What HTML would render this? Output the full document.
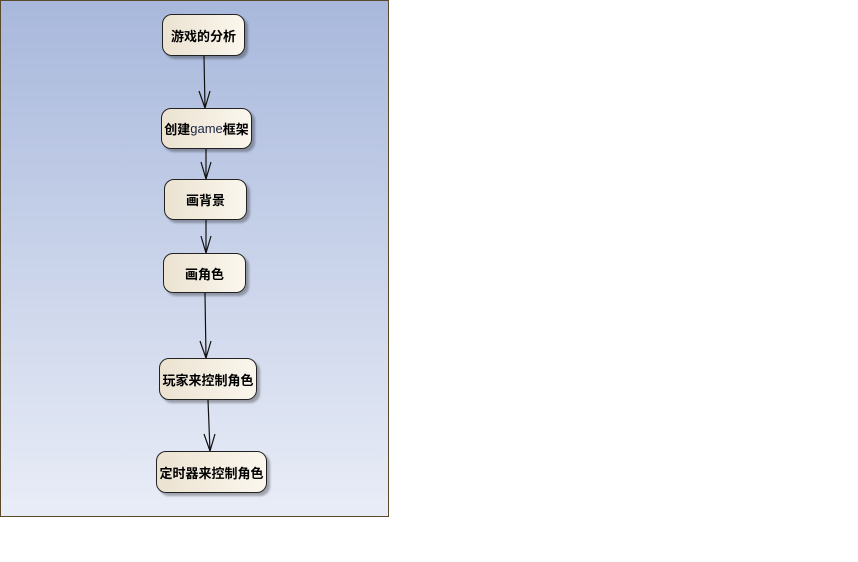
<!DOCTYPE html>
<html><head><meta charset="utf-8"><style>
body{margin:0;width:858px;height:562px;background:#fff;position:relative;overflow:hidden;font-family:"Liberation Sans","Noto Sans CJK SC",sans-serif}
#f{position:absolute;left:0;top:0;width:387px;height:515px;border:1px solid #5a4a2a;background:linear-gradient(#a8b8dc,#e9edf7)}
.n{position:absolute;box-sizing:border-box;border:1px solid #222;border-radius:10px;background:linear-gradient(90deg,#ebe2d0,#fbf7ee);box-shadow:3px 3px 2px rgba(0,0,0,0.3);display:flex;align-items:center;justify-content:center;font-size:13px;font-weight:bold;color:#000;white-space:nowrap}
svg{position:absolute;left:0;top:0}
</style></head><body>
<div id="f"></div>
<svg width="858" height="562"><g stroke="#111" stroke-width="1.2" fill="none">
<line x1="204" y1="56" x2="205" y2="108"/><polyline points="199,91 205,108 210,91"/>
<line x1="206" y1="149" x2="206" y2="179"/><polyline points="201,162 206,179 211,162"/>
<line x1="206" y1="220" x2="206" y2="253"/><polyline points="201,236 206,253 211,236"/>
<line x1="205" y1="293" x2="206" y2="358"/><polyline points="200,341 206,358 211,341"/>
<line x1="208" y1="400" x2="210" y2="451"/><polyline points="204,434 210,451 215,434"/>
</g></svg>
<div class="n" style="left:162px;top:14px;width:83px;height:42px">游戏的分析</div>
<div class="n" style="left:161px;top:108px;width:91px;height:41px">创建<span style="font-weight:normal;color:#1a2440">game</span>框架</div>
<div class="n" style="left:164px;top:179px;width:83px;height:41px">画背景</div>
<div class="n" style="left:163px;top:253px;width:83px;height:40px">画角色</div>
<div class="n" style="left:159px;top:358px;width:98px;height:42px">玩家来控制角色</div>
<div class="n" style="left:156px;top:451px;width:111px;height:42px">定时器来控制角色</div>
</body></html>
